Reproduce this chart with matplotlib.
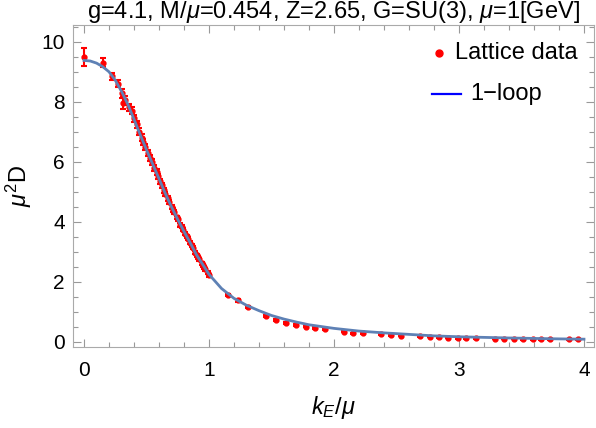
import numpy as np
import matplotlib
matplotlib.use("Agg")
import matplotlib.pyplot as plt
from matplotlib.lines import Line2D
from matplotlib.ticker import MultipleLocator

plt.rcParams['font.family'] = ['Liberation Sans', 'DejaVu Sans']
plt.rcParams['mathtext.fontset'] = 'custom'
plt.rcParams['mathtext.rm'] = 'Liberation Sans'
plt.rcParams['mathtext.it'] = 'Liberation Sans:italic'

# lattice data (k_E/mu, mu^2 D, error)
k_lat = [0.0, 0.155, 0.22, 0.27, 0.30, 0.315, 0.33, 0.36, 0.38, 0.40, 0.42, 0.44,
         0.46, 0.47, 0.49, 0.51, 0.53, 0.54, 0.56, 0.58, 0.59, 0.61, 0.62, 0.64,
         0.65, 0.67, 0.68, 0.70, 0.71, 0.72, 0.74, 0.75, 0.77, 0.78, 0.79, 0.81,
         0.82, 0.83, 0.85, 0.86, 0.87, 0.89, 0.90, 0.91, 0.92, 0.94, 0.95, 0.96,
         0.97, 0.99, 1.00,
         1.155, 1.235, 1.315, 1.46, 1.536, 1.62, 1.70, 1.776, 1.848, 1.928, 2.08,
         2.155, 2.235, 2.38, 2.46, 2.54, 2.69, 2.77, 2.84, 2.91, 2.99, 3.06, 3.14,
         3.29, 3.36, 3.44, 3.51, 3.59, 3.66, 3.73, 3.88, 3.95]
d_lat = [9.50, 9.31, 8.85, 8.60, 8.29, 7.96, 8.05, 7.82, 7.70, 7.45, 7.25, 7.00,
         6.80, 6.65, 6.50, 6.28, 6.12, 6.00, 5.80, 5.65, 5.52, 5.35, 5.22, 5.05,
         4.93, 4.78, 4.66, 4.50, 4.40, 4.33, 4.15, 4.08, 3.90, 3.84, 3.74, 3.60,
         3.52, 3.44, 3.30, 3.20, 3.13, 2.97, 2.88, 2.82, 2.75, 2.62, 2.55, 2.48,
         2.42, 2.30, 2.22,
         1.57, 1.38, 1.16, 0.87, 0.73, 0.64, 0.57, 0.51, 0.46, 0.42, 0.34,
         0.29, 0.29, 0.26, 0.22, 0.21, 0.18, 0.17, 0.16, 0.14, 0.13, 0.12, 0.12,
         0.11, 0.10, 0.10, 0.09, 0.09, 0.09, 0.09, 0.09, 0.09]
e_lat = [0.31, 0.14, 0.12, 0.12, 0.15, 0.20, 0.15, 0.12, 0.12, 0.12, 0.12, 0.12,
         0.12, 0.10, 0.10, 0.10, 0.10, 0.10, 0.10, 0.10, 0.08, 0.08, 0.08, 0.08,
         0.08, 0.07, 0.07, 0.07, 0.07, 0.06, 0.06, 0.06, 0.06, 0.06, 0.05, 0.05,
         0.05, 0.05, 0.05, 0.05, 0.05, 0.05, 0.05, 0.05, 0.05, 0.05, 0.05, 0.05,
         0.05, 0.05, 0.05,
         0.04, 0.04, 0.04, 0.03, 0.03, 0.03, 0.03, 0.03, 0.03, 0.03, 0.02,
         0.02, 0.02, 0.02, 0.02, 0.02, 0.02, 0.02, 0.02, 0.02, 0.02, 0.02, 0.02,
         0.02, 0.02, 0.02, 0.02, 0.02, 0.02, 0.02, 0.02, 0.02]

# 1-loop curve
k_fit = [0.0, 0.05, 0.10, 0.15, 0.20, 0.25, 0.30, 0.35, 0.40, 0.45, 0.50, 0.55,
         0.60, 0.65, 0.70, 0.75, 0.80, 0.85, 0.90, 0.95, 1.0, 1.1, 1.2, 1.3,
         1.4, 1.5, 1.6, 1.7, 1.8, 2.0, 2.2, 2.4, 2.6, 2.8, 3.0, 3.2, 3.4, 3.6,
         3.8, 4.0]
d_fit = [9.38, 9.36, 9.29, 9.17, 9.00, 8.72, 8.35, 7.92, 7.42, 6.90, 6.40, 5.92,
         5.44, 4.95, 4.50, 4.08, 3.68, 3.30, 2.90, 2.58, 2.25, 1.78, 1.45, 1.22,
         1.04, 0.88, 0.76, 0.66, 0.57, 0.45, 0.36, 0.30, 0.25, 0.20, 0.17, 0.15,
         0.13, 0.115, 0.10, 0.09]

fig = plt.figure(figsize=(5.96, 4.28), dpi=100)
ax = fig.add_axes([0.1225, 0.1893, 0.8741, 0.7523])

ax.errorbar(k_lat, d_lat, yerr=e_lat, fmt='o', color='red', ms=3.5,
            elinewidth=1.5, capsize=2.5, capthick=1.5, zorder=2)
ax.plot(k_fit, d_fit, color='#5E81B5', lw=2, zorder=3)

# legend, laid out like the Mathematica one
tr = ax.transAxes
ax.add_line(Line2D([0.7025], [0.913], marker='o', ms=5, color='red',
                   ls='none', transform=tr))
ax.text(0.733, 0.913, 'Lattice data', transform=tr, fontsize=17,
        va='center', ha='left')
ax.add_line(Line2D([0.689, 0.745], [0.786, 0.786], color='blue', lw=1.6,
                   transform=tr))
ax.text(0.762, 0.786, '1\u2212loop', transform=tr, fontsize=17,
        va='center', ha='left')

ax.set_xlim(-0.088, 4.08)
ax.set_ylim(-0.17, 10.56)
ax.xaxis.set_major_locator(MultipleLocator(1))
ax.xaxis.set_minor_locator(MultipleLocator(0.2))
ax.yaxis.set_major_locator(MultipleLocator(2))
ax.yaxis.set_minor_locator(MultipleLocator(0.5))
ax.tick_params(which='both', direction='in', top=True, right=True,
               color='#999999', labelsize=15)
ax.tick_params(axis='x', pad=10)
ax.tick_params(axis='y', pad=6)
ax.tick_params(which='major', length=6, width=0.8)
ax.tick_params(which='minor', length=3.5, width=0.8)
for s in ax.spines.values():
    s.set_color('#AAAAAA')

ax.set_title(r'g=4.1, M/$\mu$=0.454, Z=2.65, G=SU(3), $\mu$=1[GeV]',
             fontsize=17, pad=3)
ax.set_xlabel(r'$k_E/\mu$', fontsize=17, labelpad=10)
ax.set_ylabel(r'$\mu^2$D', fontsize=17, labelpad=5)

fig.savefig('out.png', dpi=100)
